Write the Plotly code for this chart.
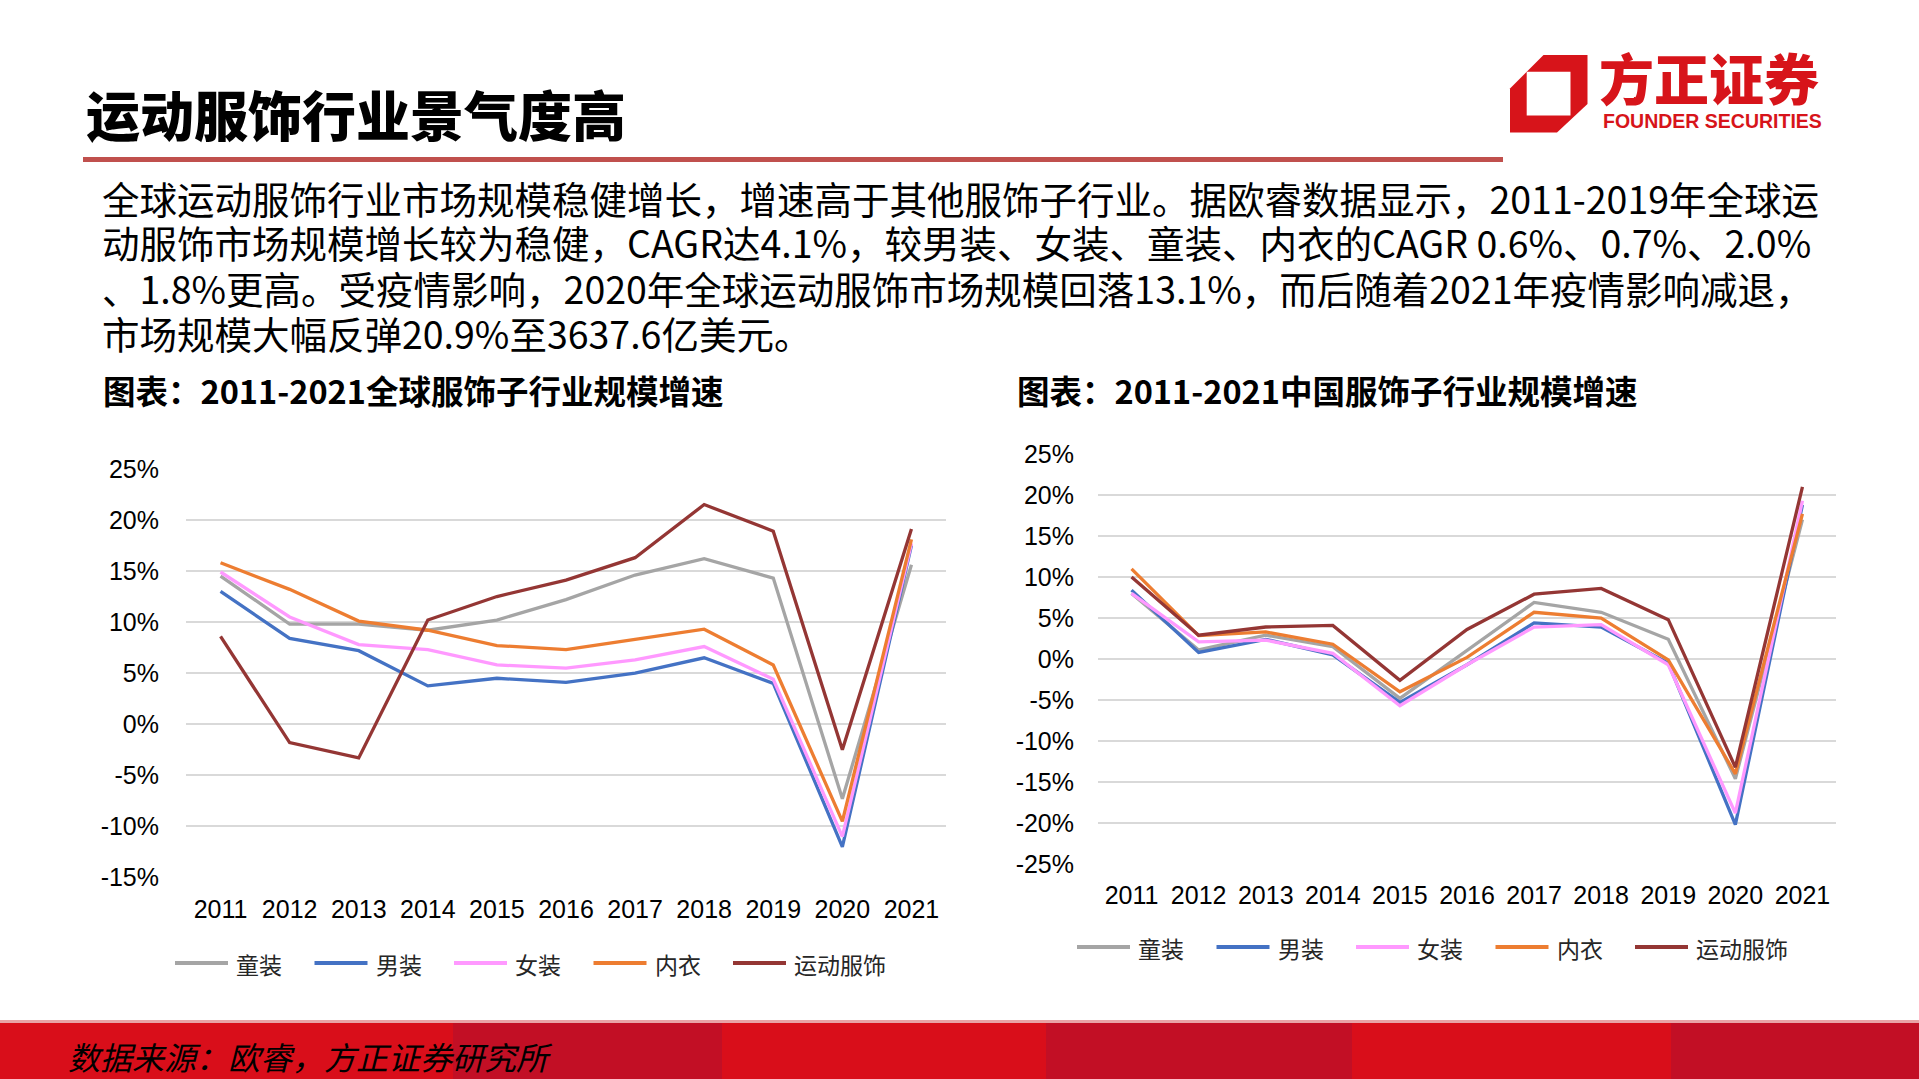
import plotly.graph_objects as go

W, H = 1919, 1079

years = ["2011", "2012", "2013", "2014", "2015", "2016", "2017", "2018", "2019", "2020", "2021"]
series_names = ["童装", "男装", "女装", "内衣", "运动服饰"]
series_colors = ["#A5A5A5", "#4472C4", "#FF99FF", "#ED7D31", "#943634"]

# 全球 (global) growth, %
global_kids = [14.5, 9.8, 9.8, 9.2, 10.2, 12.2, 14.6, 16.2, 14.3, -7.3, 15.6]
global_men = [13.0, 8.4, 7.2, 3.75, 4.5, 4.1, 5.0, 6.5, 4.0, -12.0, 17.5]
global_women = [14.9, 10.5, 7.8, 7.3, 5.8, 5.5, 6.3, 7.6, 4.4, -11.0, 17.7]
global_underwear = [15.8, 13.2, 10.1, 9.2, 7.7, 7.3, 8.3, 9.3, 5.8, -9.5, 18.1]
global_sports = [8.6, -1.8, -3.3, 10.2, 12.5, 14.1, 16.3, 21.5, 18.9, -2.5, 19.1]

# 中国 (China) growth, %
china_kids = [8.0, 1.1, 2.9, 1.5, -4.8, 1.1, 6.9, 5.7, 2.4, -14.6, 17.0]
china_men = [8.4, 0.8, 2.4, 0.5, -5.3, -0.7, 4.4, 3.9, -0.5, -20.2, 18.8]
china_women = [8.0, 2.1, 2.3, 0.7, -5.7, -0.7, 3.9, 4.2, -0.7, -18.8, 19.3]
china_underwear = [11.0, 2.85, 3.3, 1.8, -4.0, 0.2, 5.7, 5.0, -0.1, -14.0, 17.7]
china_sports = [10.0, 2.9, 3.9, 4.1, -2.6, 3.6, 7.9, 8.6, 4.8, -13.2, 21.0]

global_series = [global_kids, global_men, global_women, global_underwear, global_sports]
china_series = [china_kids, china_men, china_women, china_underwear, china_sports]

left_ticks = [25, 20, 15, 10, 5, 0, -5, -10, -15]
right_ticks = [25, 20, 15, 10, 5, 0, -5, -10, -15, -20, -25]

title_text = "运动服饰行业景气度高"
body_lines = [
    "全球运动服饰行业市场规模稳健增长，增速高于其他服饰子行业。据欧睿数据显示，2011-2019年全球运",
    "动服饰市场规模增长较为稳健，CAGR达4.1%，较男装、女装、童装、内衣的CAGR 0.6%、0.7%、2.0%",
    "、1.8%更高。受疫情影响，2020年全球运动服饰市场规模回落13.1%，而后随着2021年疫情影响减退，",
    "市场规模大幅反弹20.9%至3637.6亿美元。",
]
left_title = "图表：2011-2021全球服饰子行业规模增速"
right_title = "图表：2011-2021中国服饰子行业规模增速"
source_text = "数据来源：欧睿，方正证券研究所"
logo_cn = "方正证券"
logo_en = "FOUNDER SECURITIES"


def px(x):
    return x / W


def py(y):
    return 1 - y / H


CJK = "Noto Sans CJK SC"
LAT = "Liberation Sans, Arial"

fig = go.Figure()

for i, (name, color) in enumerate(zip(series_names, series_colors)):
    fig.add_trace(go.Scatter(
        x=years, y=global_series[i], name=name, mode="lines",
        line=dict(color=color, width=3.3), xaxis="x", yaxis="y",
        showlegend=False, hoverinfo="skip"))
for i, (name, color) in enumerate(zip(series_names, series_colors)):
    fig.add_trace(go.Scatter(
        x=years, y=china_series[i], name=name, mode="lines",
        line=dict(color=color, width=3.3), xaxis="x2", yaxis="y2",
        showlegend=False, hoverinfo="skip"))

axis_common = dict(showline=False, zeroline=False, ticks="", automargin=False,
                   tickfont=dict(family=LAT, size=25, color="#000000"))

fig.update_layout(
    autosize=True, margin=dict(l=0, r=0, t=0, b=0, pad=0),
    paper_bgcolor="white", plot_bgcolor="white", showlegend=False,
    xaxis=dict(domain=[px(186), px(946)], type="category", range=[-0.5, 10.5],
               showgrid=False, anchor="y", ticklabelstandoff=14, **axis_common),
    yaxis=dict(domain=[py(877.5), py(468.8)], range=[-15, 25], tickvals=left_ticks,
               ticktext=[f"{v}%" for v in left_ticks], showgrid=True,
               gridcolor="#D9D9D9", gridwidth=1.6, anchor="x", ticklabelstandoff=26,
               **axis_common),
    xaxis2=dict(domain=[px(1098), px(1836)], type="category", range=[-0.5, 10.5],
                showgrid=False, anchor="y2", ticklabelstandoff=14, **axis_common),
    yaxis2=dict(domain=[py(864), py(454)], range=[-25, 25], tickvals=right_ticks,
                ticktext=[f"{v}%" for v in right_ticks], showgrid=True,
                gridcolor="#D9D9D9", gridwidth=1.6, anchor="x2", ticklabelstandoff=23,
                **axis_common),
)

shapes = []
annotations = []

# red rule under title
shapes.append(dict(type="rect", xref="paper", yref="paper", x0=px(83), x1=px(1503),
                   y0=py(162), y1=py(157), fillcolor="#C0504D", line=dict(width=0)))

# footer band
band = [(0, 453, "#D90E1A"), (453, 722, "#C20F25"), (722, 1046, "#D90E1A"),
        (1046, 1352, "#C20F25"), (1352, 1671, "#D90E1A"), (1671, 1919, "#C20F25")]
for x0, x1, c in band:
    shapes.append(dict(type="rect", xref="paper", yref="paper", x0=px(x0), x1=px(x1),
                       y0=0, y1=py(1022), fillcolor=c, line=dict(width=0), layer="below"))
shapes.append(dict(type="rect", xref="paper", yref="paper", x0=0, x1=1, y0=py(1023),
                   y1=py(1020), fillcolor="#E9A3A6", line=dict(width=0), layer="below"))

# legends (drawn manually: long line samples like the reference)
legend_specs = [
    (175, 963),   # left chart: start x of first sample, y
    (1077, 947),  # right chart
]
for lx, ly in legend_specs:
    for i, (name, color) in enumerate(zip(series_names, series_colors)):
        x0 = lx + 139.5 * i
        shapes.append(dict(type="line", xref="paper", yref="paper", x0=px(x0), x1=px(x0 + 53),
                           y0=py(ly), y1=py(ly), line=dict(color=color, width=4)))
        annotations.append(dict(text=name, x=px(x0 + 59), y=py(ly + 1), xref="paper", yref="paper",
                                xanchor="left", yanchor="middle", showarrow=False,
                                font=dict(family=CJK, size=23, color="#262626")))

# logo icon
LOGO_RED = "#D7141A"


def path_from(pts):
    return "M " + " L ".join(f"{px(x):.5f},{py(y):.5f}" for x, y in pts) + " Z"


outer = [(1543.5, 55), (1587.5, 55), (1587.5, 104), (1557, 132.5), (1510, 132.5), (1510, 88.5)]
inner = [(1526.7, 71.7), (1570.5, 71.7), (1570.5, 115.5), (1526.7, 115.5)]
shapes.append(dict(type="path", xref="paper", yref="paper", path=path_from(outer),
                   fillcolor=LOGO_RED, line=dict(width=0)))
shapes.append(dict(type="path", xref="paper", yref="paper", path=path_from(inner),
                   fillcolor="white", line=dict(width=0)))

annotations.append(dict(text=logo_cn, x=px(1597), y=py(76), xref="paper", yref="paper",
                        xanchor="left", yanchor="middle", showarrow=False,
                        font=dict(family=CJK, size=55, color=LOGO_RED, weight=900)))
annotations.append(dict(text=logo_en, x=px(1601), y=py(121), xref="paper", yref="paper",
                        xanchor="left", yanchor="middle", showarrow=False,
                        font=dict(family=LAT, size=19.5, color=LOGO_RED, weight="bold")))

# title
annotations.append(dict(text=title_text, x=px(84), y=py(114), xref="paper", yref="paper",
                        xanchor="left", yanchor="middle", showarrow=False,
                        font=dict(family=CJK, size=54, color="#000000", weight=900)))

# body text, one annotation per line at the reference's line positions
body_y = [197, 241.5, 287, 332]
for line, ly in zip(body_lines, body_y):
    annotations.append(dict(text=line, x=px(100), y=py(ly), xref="paper", yref="paper",
                            xanchor="left", yanchor="middle", showarrow=False,
                            font=dict(family=CJK, size=37.5, color="#000000")))

# chart titles
annotations.append(dict(text=left_title, x=px(101), y=py(389), xref="paper", yref="paper",
                        xanchor="left", yanchor="middle", showarrow=False,
                        font=dict(family=CJK, size=32.5, color="#000000", weight="bold")))
annotations.append(dict(text=right_title, x=px(1015), y=py(389), xref="paper", yref="paper",
                        xanchor="left", yanchor="middle", showarrow=False,
                        font=dict(family=CJK, size=32.5, color="#000000", weight="bold")))

# source
annotations.append(dict(text=source_text, x=px(66), y=py(1056), xref="paper", yref="paper",
                        xanchor="left", yanchor="middle", showarrow=False,
                        font=dict(family=CJK, size=32, color="#000000", style="italic")))

fig.update_layout(shapes=shapes, annotations=annotations)

page_css = (
    "var s=document.createElement('style');"
    "s.textContent='html,body{margin:0;padding:0;overflow:hidden;}';"
    "document.head.appendChild(s);"
)

fig.write_html("out.html", config={"displayModeBar": False},
               default_width="100vw", default_height="100vh", post_script=page_css)
